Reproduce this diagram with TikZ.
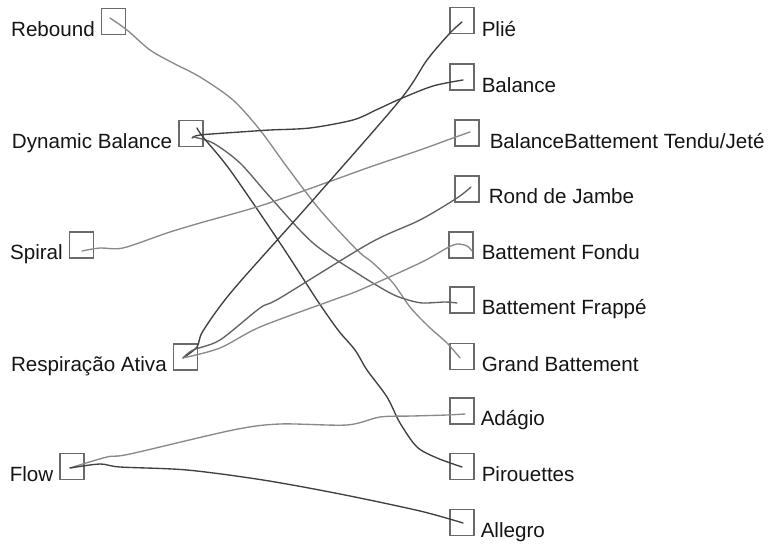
\documentclass[tikz,border=0pt]{standalone}
\usepackage{fontspec}
\setmainfont{Liberation Sans}
\definecolor{darkln}{HTML}{404040}
\definecolor{midln}{HTML}{626262}
\definecolor{lightln}{HTML}{8A8A8A}
\definecolor{boxln}{HTML}{6A6A6A}
\definecolor{txt}{HTML}{151515}
\begin{document}
\begin{tikzpicture}[x=1pt,y=-1pt,
  box/.style={draw=boxln, line width=1.1pt, minimum width=24pt, minimum height=26pt, inner sep=0pt},
  lab/.style={font=\fontsize{20.6}{24}\selectfont, text=txt, inner sep=0pt},
  conn/.style={line width=1.35pt, line cap=round, line join=round},
  cdark/.style={conn, draw=darkln},
  cmid/.style={conn, draw=midln},
  clight/.style={conn, draw=lightln}]
\useasboundingbox (0,0) rectangle (769,545);
% left boxes
\node[box] (reb)  at (113.5,21.5) {};
\node[box] (db)   at (191,133.5) {};
\node[box] (spi)  at (81.5,245) {};
\node[box] (resp) at (185.5,357) {};
\node[box] (flow) at (72,466.5) {};
% right boxes
\node[box] (plie) at (462,20.5) {};
\node[box] (bal)  at (462,77) {};
\node[box] (bbt)  at (467,133) {};
\node[box] (rdj)  at (467,189) {};
\node[box] (bfo)  at (461,245) {};
\node[box] (bfr)  at (462,300) {};
\node[box] (gb)   at (462,356.5) {};
\node[box] (ada)  at (462,411) {};
\node[box] (pir)  at (462,466.5) {};
\node[box] (alg)  at (462,522.5) {};
% left labels
\node[lab, anchor=base east] (lreb)  at ([xshift=-6pt,yshift=-1pt]reb.south west)  {Rebound};
\node[lab, anchor=base east] (ldb)   at ([xshift=-6pt,yshift=-1pt]db.south west)   {Dynamic Balance};
\node[lab, anchor=base east] (lspi)  at ([xshift=-6pt,yshift=-1pt]spi.south west)  {Spiral};
\node[lab, anchor=base east] (lresp) at ([xshift=-6pt,yshift=-1pt]resp.south west) {Respiração Ativa};
\node[lab, anchor=base east] (lflow) at ([xshift=-6pt,yshift=-1pt]flow.south west) {Flow};
% right labels
\node[lab, anchor=base west] (lplie) at ([xshift=7pt,yshift=-2pt]plie.south east) {Plié};
\node[lab, anchor=base west] (lbal)  at ([xshift=7pt,yshift=-2pt]bal.south east)  {Balance};
\node[lab, anchor=base west] (lbbt)  at ([xshift=10pt,yshift=-2pt]bbt.south east) {BalanceBattement Tendu/Jeté};
\node[lab, anchor=base west] (lrdj)  at ([xshift=9pt,yshift=-1pt]rdj.south east) {Rond de Jambe};
\node[lab, anchor=base west] (lbfo)  at ([xshift=8pt,yshift=-1pt]bfo.south east)  {Battement Fondu};
\node[lab, anchor=base west] (lbfr)  at ([xshift=7pt,yshift=-1pt]bfr.south east)  {Battement Frappé};
\node[lab, anchor=base west] (lgb)   at ([xshift=7pt,yshift=-1pt]gb.south east)   {Grand Battement};
\node[lab, anchor=base west] (lada)  at ([xshift=6pt,yshift=-1pt]ada.south east)  {Adágio};
\node[lab, anchor=base west] (lpir)  at ([xshift=7pt,yshift=-1pt]pir.south east)  {Pirouettes};
\node[lab, anchor=base west] (lalg)  at ([xshift=6pt,yshift=-1pt]alg.south east)  {Allegro};
% connector end points inside boxes
\coordinate (rebA)  at (110,18);
\coordinate (dbA)   at (192,138);
\coordinate (dbB)   at (197,128);
\coordinate (dbC)   at (193,137);
\coordinate (spiA)  at (82,251);
\coordinate (respA) at (183,358);
\coordinate (flowA) at (70,468);
\coordinate (plieE) at (462,22);
\coordinate (balE)  at (463,80);
\coordinate (bbtE)  at (470,132);
\coordinate (rdjE)  at (471,187);
\coordinate (bfoE)  at (472,251);
\coordinate (bfrE)  at (457,303);
\coordinate (gbE)   at (460,358);
\coordinate (adaE)  at (465,414);
\coordinate (pirE)  at (462,467);
\coordinate (algE)  at (463,523);
% connectors
\draw[clight] plot[smooth, tension=0.5] coordinates {(rebA) (127,30) (150,50) (173,63) (200,77) (233,100) (260,130) (287,167) (320,210) (357,250) (373,263) (393,283) (410,307) (428,326) (447,343) (gbE)};
\draw[cdark] plot[smooth, tension=0.5] coordinates {(dbA) (200,135) (240,132) (270,130) (310,128) (353,120) (376,110) (400,99) (433,86) (balE)};
\draw[cmid] plot[smooth, tension=0.5] coordinates {(dbC) (213,143) (240,163) (270,197) (313,243) (360,275) (390,293) (405,299) (422,303) (445,302) (bfrE)};
\draw[cdark] plot[smooth, tension=0.5] coordinates {(dbB) (203,137) (230,170) (280,243) (317,300) (338,330) (355,350) (367,370) (387,397) (400,423) (417,447) (437,458) (pirE)};
\draw[clight] plot[smooth, tension=0.5] coordinates {(spiA) (100,248) (123,248) (167,233) (200,223) (260,206) (320,185) (370,167) (420,150) (453,138) (bbtE)};
\draw[cdark] plot[smooth, tension=0.5] coordinates {(respA) (197,347) (203,331) (233,290) (313,200) (400,100) (427,60) (450,33) (plieE)};
\draw[cmid] plot[smooth, tension=0.5] coordinates {(respA) (193,350) (220,340) (260,308) (280,298) (370,243) (420,220) (457,198) (rdjE)};
\draw[clight] plot[smooth, tension=0.5] coordinates {(respA) (220,348) (260,327) (333,300) (360,290) (420,263) (447,248) (457,244) (467,246) (bfoE)};
\draw[clight] plot[smooth, tension=0.5] coordinates {(flowA) (107,457) (130,454) (233,430) (280,424) (347,425) (380,417) (413,416) (447,415) (adaE)};
\draw[cdark] plot[smooth, tension=0.5] coordinates {(flowA) (100,464) (120,467) (187,470) (263,480) (340,494) (420,511) (algE)};
\end{tikzpicture}
\end{document}
